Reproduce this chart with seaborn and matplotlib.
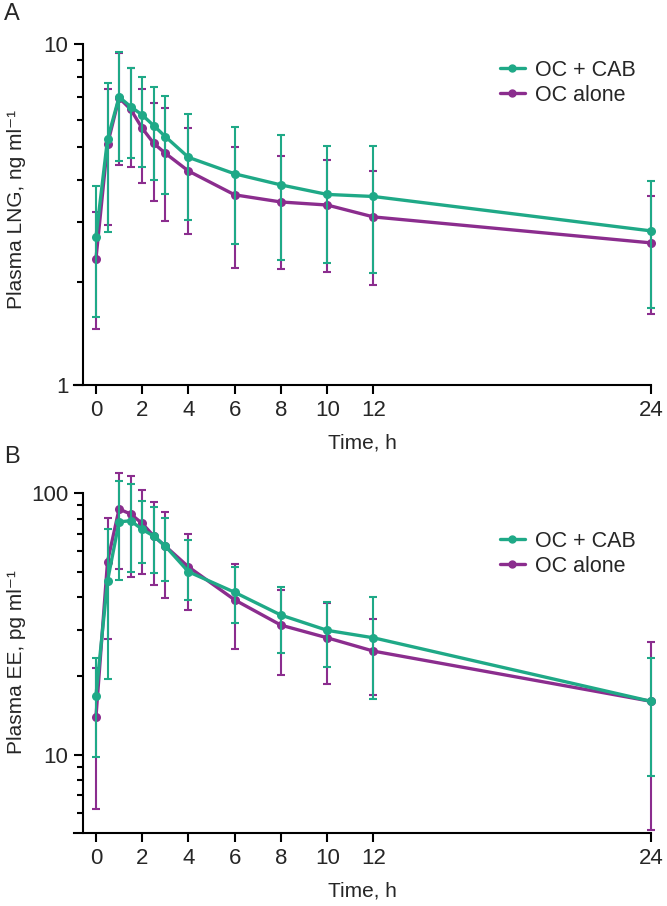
import matplotlib
matplotlib.use('Agg')
import matplotlib.pyplot as plt
import seaborn as sns
import numpy as np
import pandas as pd
from matplotlib.lines import Line2D
from matplotlib.ticker import FixedLocator, FuncFormatter, NullFormatter

sns.set_style('ticks')
plt.rcParams['font.family'] = ['Liberation Sans', 'DejaVu Sans']

# sampling times (h)
time_h = [0, 0.5, 1, 1.5, 2, 2.5, 3, 4, 6, 8, 10, 12, 24]
xtick_vals = [0, 2, 4, 6, 8, 10, 12, 24]
groups = ['OC + CAB', 'OC alone']

# Panel A: plasma LNG (ng/ml), mean and error bar limits
lng_cab = [2.71, 5.25, 6.99, 6.55, 6.19, 5.76, 5.35, 4.65, 4.16, 3.86, 3.62, 3.57, 2.83]
lng_cab_hi = [3.82, 7.70, 9.46, 8.50, 8.02, 7.50, 7.04, 6.23, 5.71, 5.41, 5.02, 5.03, 3.96]
lng_cab_lo = [1.58, 2.80, 4.55, 4.62, 4.37, 3.99, 3.62, 3.04, 2.59, 2.32, 2.28, 2.13, 1.68]
lng_alone = [2.34, 5.08, 6.95, 6.43, 5.66, 5.11, 4.78, 4.24, 3.61, 3.44, 3.37, 3.11, 2.61]
lng_alone_hi = [3.21, 7.37, 9.40, 8.52, 7.38, 6.73, 6.48, 5.66, 4.98, 4.69, 4.56, 4.24, 3.58]
lng_alone_lo = [1.46, 2.95, 4.42, 4.35, 3.90, 3.47, 3.02, 2.77, 2.21, 2.19, 2.14, 1.96, 1.62]

# Panel B: plasma EE (pg/ml)
ee_cab = [16.8, 46.2, 77.8, 78.5, 72.8, 68.6, 62.8, 50.1, 41.8, 34.2, 29.9, 28.0, 16.0]
ee_cab_hi = [23.4, 72.8, 111.4, 108.3, 93.4, 88.4, 80.2, 66.2, 52.1, 43.9, 38.4, 40.1, 23.5]
ee_cab_lo = [9.76, 19.4, 46.6, 50.1, 53.9, 49.4, 46.1, 39.0, 31.8, 24.5, 21.7, 16.3, 8.31]
ee_alone = [13.9, 54.7, 87.1, 83.3, 76.7, 68.6, 62.8, 52.3, 39.1, 31.3, 28.0, 24.9, 16.0]
ee_alone_hi = [21.4, 80.6, 120.0, 116.5, 103.0, 92.9, 84.5, 69.6, 53.5, 42.6, 37.9, 33.1, 26.9]
ee_alone_lo = [6.21, 27.6, 51.2, 47.9, 49.1, 44.5, 39.8, 35.7, 25.3, 20.2, 18.6, 16.9, 5.17]

green = '#1fa987'
purple = '#8b2d8e'

fig = plt.figure(figsize=(6.67, 9.06), dpi=100)
axA = fig.add_axes([0.1109, 0.5751, 0.8651, 0.3764])
axB = fig.add_axes([0.1109, 0.0802, 0.8651, 0.3753])


def draw_panel(ax, cab, cab_lo, cab_hi, alone, alone_lo, alone_hi,
               ylim, major, minor, ylabel, label_y, leg_y):
    n = len(time_h)
    df = pd.DataFrame({
        'Time': time_h + time_h,
        'Conc': alone + cab,
        'Group': ['OC alone'] * n + ['OC + CAB'] * n,
    })
    ax.set_yscale('log')
    sns.lineplot(data=df, x='Time', y='Conc', hue='Group',
                 hue_order=['OC alone', 'OC + CAB'], palette=[purple, green],
                 marker='o', markersize=6.5, markeredgewidth=0, linewidth=2.4,
                 ax=ax, legend=False)
    lines = list(ax.get_lines())
    lines[0].set_zorder(2)
    lines[1].set_zorder(4)
    for ln in lines:
        ln.set_clip_on(False)

    for vals, lo, hi, col, z in [(alone, alone_lo, alone_hi, purple, 1),
                                 (cab, cab_lo, cab_hi, green, 3)]:
        v = np.array(vals)
        eb = ax.errorbar(time_h, v, yerr=[v - np.array(lo), np.array(hi) - v],
                         fmt='none', ecolor=col, elinewidth=1.5, capsize=3.2,
                         capthick=1.5, zorder=z)
        for art in eb.lines[1] + eb.lines[2]:
            art.set_clip_on(False)

    ax.set_xlim(-0.95, 24)
    ax.set_ylim(*ylim)
    ax.set_xticks(xtick_vals)
    ax.yaxis.set_major_locator(FixedLocator(major))
    ax.yaxis.set_minor_locator(FixedLocator(minor))
    ax.yaxis.set_major_formatter(FuncFormatter(lambda v, p: f'{v:g}'))
    ax.yaxis.set_minor_formatter(NullFormatter())
    ax.xaxis.set_minor_locator(FixedLocator([]))

    ax.spines['left'].set_position(('data', -0.56))
    sns.despine(ax=ax)
    for s in ['left', 'bottom']:
        ax.spines[s].set_linewidth(1.5)
        ax.spines[s].set_color('black')
    ax.tick_params(which='major', length=6.5, width=1.5, labelsize=16, pad=4,
                   color='black')
    ax.tick_params(which='minor', length=4, width=1.5, color='black')

    ax.set_xlabel('Time, h', fontsize=15, labelpad=9)
    ax.set_ylabel(ylabel, fontsize=15)
    ax.yaxis.set_label_coords(-0.083, label_y)

    handles = [Line2D([], [], color=green, marker='o', markersize=5, lw=2.4),
               Line2D([], [], color=purple, marker='o', markersize=5, lw=2.4)]
    ax.legend(handles, groups, loc='center left', bbox_to_anchor=(0.738, leg_y),
              frameon=False, fontsize=15.5, handlelength=1.15, handletextpad=0.5,
              labelspacing=0.2, borderpad=0, borderaxespad=0)


draw_panel(axA, lng_cab, lng_cab_lo, lng_cab_hi, lng_alone, lng_alone_lo,
           lng_alone_hi, (1, 10), [1, 10], [2, 3, 4, 5, 6, 7, 8, 9],
           'Plasma LNG, ng ml\u207b\u00b9', 0.515, 0.886)
draw_panel(axB, ee_cab, ee_cab_lo, ee_cab_hi, ee_alone, ee_alone_lo,
           ee_alone_hi, (5, 100), [10, 100],
           [6, 7, 8, 9, 20, 30, 40, 50, 60, 70, 80, 90],
           'Plasma EE, pg ml\u207b\u00b9', 0.505, 0.822)

fig.text(4 / 667, 1 - 3 / 906, 'A', fontsize=17, va='top', ha='left')
fig.text(4 / 667, 1 - 446 / 906, 'B', fontsize=17, va='top', ha='left')

fig.savefig('out.png', dpi=100)
